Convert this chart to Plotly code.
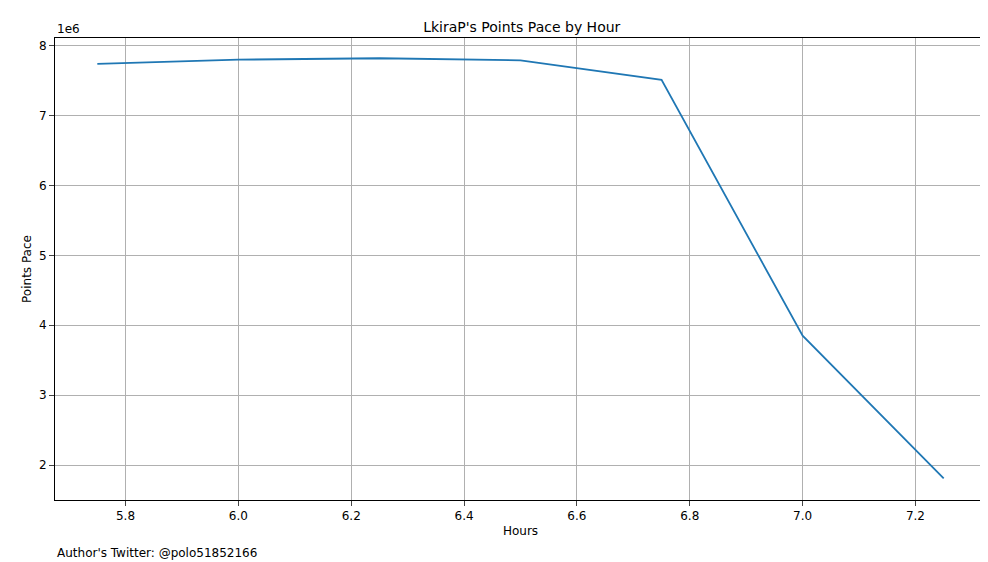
import plotly.graph_objects as go

hours = [5.75, 6.0, 6.25, 6.5, 6.75, 7.0, 7.25]
pace = [7.74, 7.80, 7.82, 7.79, 7.51, 3.85, 1.81]  # millions

fig = go.Figure(go.Scatter(x=hours, y=pace, mode='lines',
                           line=dict(color='#1f77b4', width=1.8)))

fig.update_layout(
    width=988, height=562, plot_bgcolor='white', paper_bgcolor='white',
    margin=dict(l=47, r=10, t=30, b=70, autoexpand=False),
    font=dict(family='DejaVu Sans', size=12, color='black'),
    title=dict(text="LkiraP's Points Pace by Hour", x=0.52, xanchor='center',
               y=0.975, font=dict(size=14)),
    showlegend=False,
    annotations=[
        dict(text='1e6', xref='paper', yref='paper', x=0, y=1, xanchor='left',
             yanchor='bottom', showarrow=False, font=dict(size=12)),
        dict(text="Author's Twitter: @polo51852166", xref='paper', yref='paper',
             x=0, y=-0.095, xanchor='left', yanchor='top', showarrow=False,
             font=dict(size=12)),
    ],
)
fig.update_xaxes(range=[5.675, 7.325], tickvals=[5.8, 6.0, 6.2, 6.4, 6.6, 6.8, 7.0, 7.2],
                 ticktext=['5.8', '6.0', '6.2', '6.4', '6.6', '6.8', '7.0', '7.2'],
                 showgrid=True, gridcolor='#b0b0b0', showline=True, linecolor='black',
                 mirror=True, ticks='outside', zeroline=False, automargin=False,
                 title=dict(text='Hours', standoff=4, font=dict(size=12)))
fig.update_yaxes(range=[1.5, 8.11], tickvals=[2, 3, 4, 5, 6, 7, 8],
                 showgrid=True, gridcolor='#b0b0b0', showline=True, linecolor='black',
                 mirror=True, ticks='outside', zeroline=False, automargin=False,
                 title=dict(text='Points Pace', standoff=4, font=dict(size=12)))

fig.write_html("out.html")
